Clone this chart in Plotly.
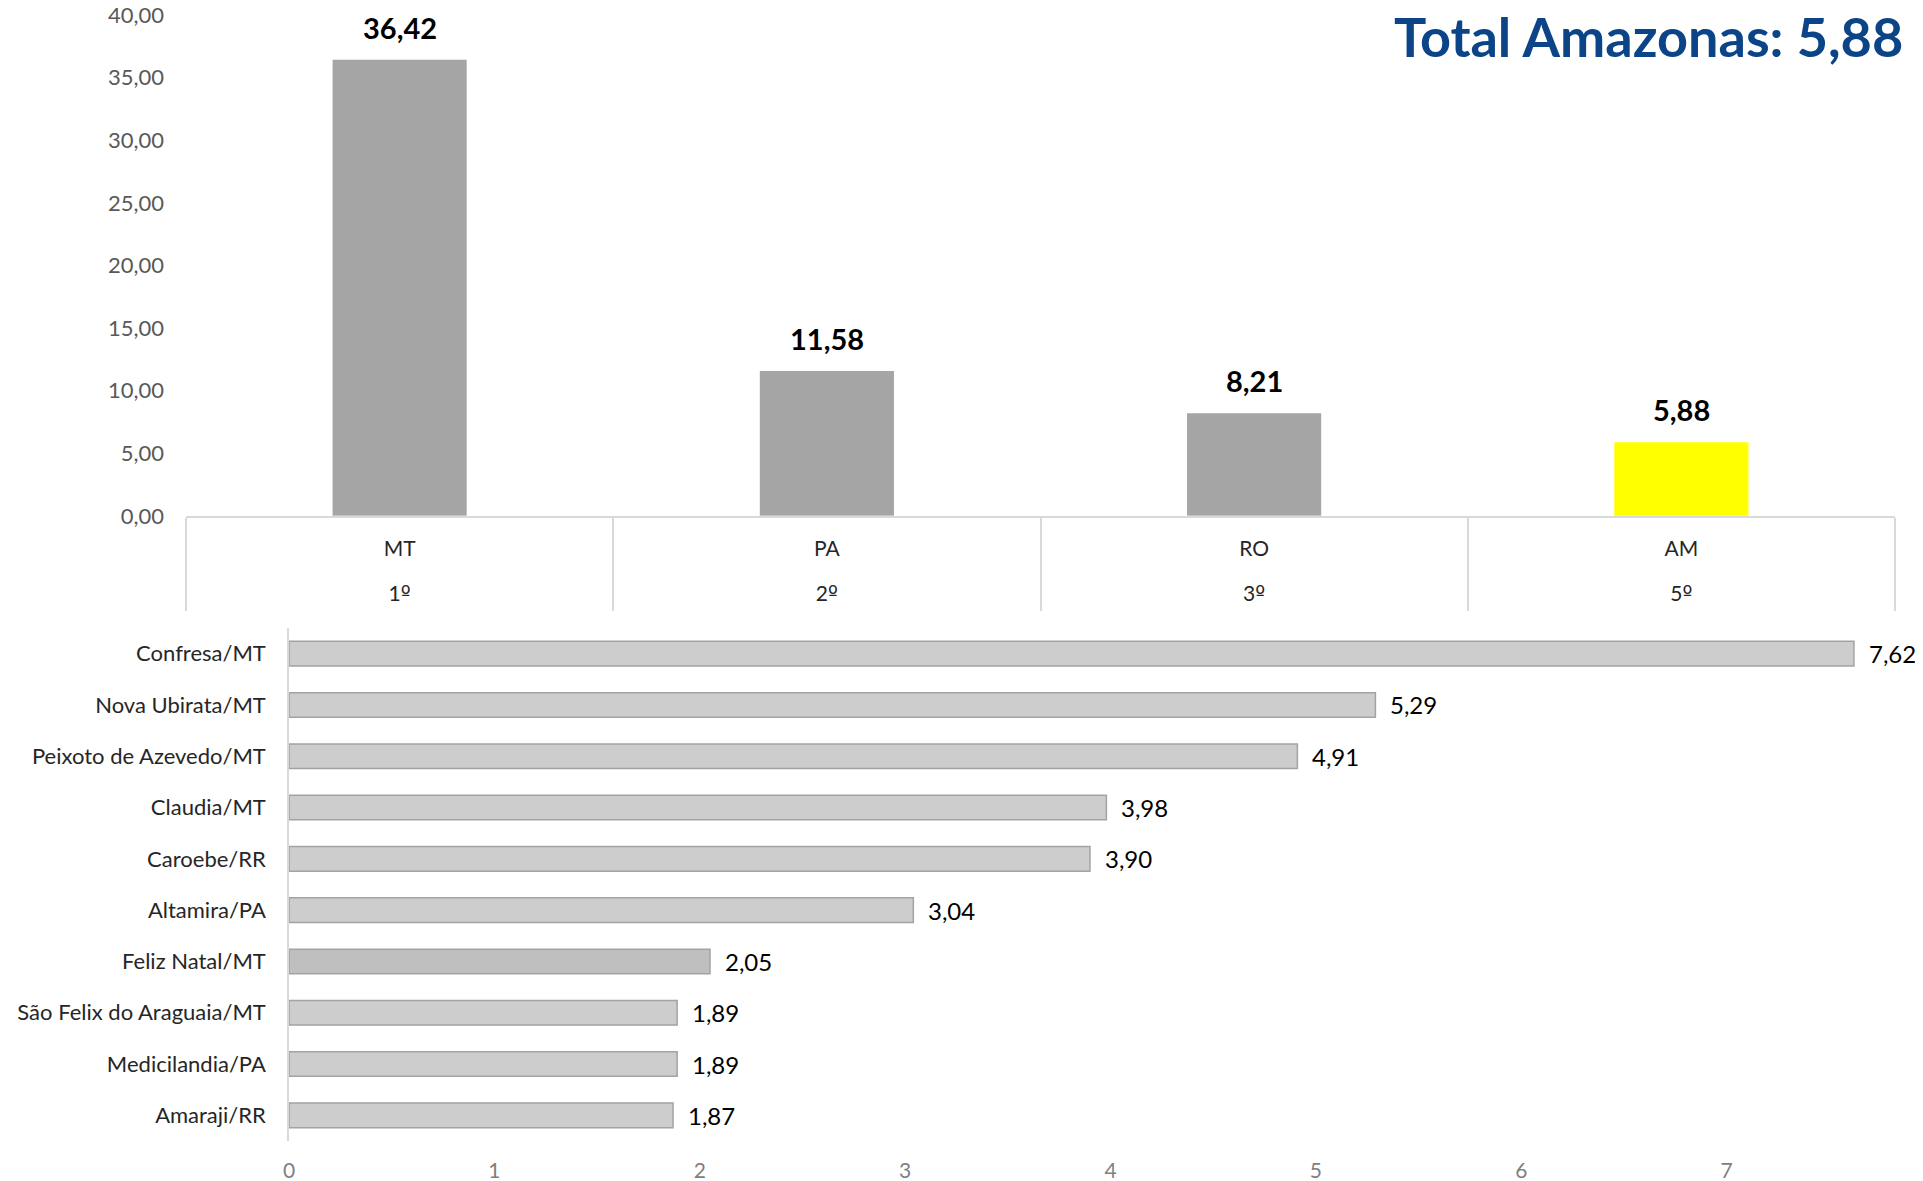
import plotly.graph_objects as go

# ---- data ----
states = ["MT", "PA", "RO", "AM"]
ranks = ["1º", "2º", "3º", "5º"]
state_values = [36.42, 11.58, 8.21, 5.88]
state_colors = ["#a5a5a5", "#a5a5a5", "#a5a5a5", "#ffff00"]

cities = ["Confresa/MT", "Nova Ubirata/MT", "Peixoto de Azevedo/MT", "Claudia/MT",
          "Caroebe/RR", "Altamira/PA", "Feliz Natal/MT", "São Felix do Araguaia/MT",
          "Medicilandia/PA", "Amaraji/RR"]
city_values = [7.62, 5.29, 4.91, 3.98, 3.90, 3.04, 2.05, 1.89, 1.89, 1.87]
city_colors = ["#cdcdcd"] * 6 + ["#bfbfbf"] + ["#cdcdcd"] * 3

y_ticks_top = [0, 5, 10, 15, 20, 25, 30, 35, 40]
x_ticks_bottom = [0, 1, 2, 3, 4, 5, 6, 7]
title_text = "Total Amazonas: 5,88 km²"

W, H = 1923, 1181
OFF = 8  # page body margin offsets the figure
FONT = "Lato"

def fmt(v):
    return f"{v:.2f}".replace(".", ",")

def px_x(x):
    return (x - OFF) / W

def px_y(y):
    return 1 - (y - OFF) / H

pos = list(range(len(states)))
rank_text = [r.replace("º", "<span style='font-family:DejaVu Sans'>º</span>") for r in ranks]

fig = go.Figure()
fig.add_trace(go.Bar(x=pos, y=state_values, marker=dict(color=state_colors, line=dict(width=0)),
                     xaxis="x", yaxis="y", showlegend=False, hoverinfo="skip"))
# invisible helper trace to anchor the rank axis
fig.add_trace(go.Bar(x=pos, y=[0] * len(pos), xaxis="x3", yaxis="y", showlegend=False,
                     hoverinfo="skip", marker=dict(color="rgba(0,0,0,0)")))
fig.add_trace(go.Bar(y=cities, x=city_values, orientation="h", width=0.48,
                     marker=dict(color=city_colors, line=dict(color="#a3a3a3", width=1.5)),
                     xaxis="x2", yaxis="y2", showlegend=False, hoverinfo="skip"))

annotations = []
for p, v in zip(pos, state_values):
    annotations.append(dict(x=p, y=v, xref="x", yref="y", text=f"<b>{fmt(v)}</b>",
                            showarrow=False, yanchor="bottom", yshift=13,
                            font=dict(family=FONT, size=29, color="#000000")))
for c, v in zip(cities, city_values):
    annotations.append(dict(x=v, y=c, xref="x2", yref="y2", text=fmt(v),
                            showarrow=False, xanchor="left", xshift=13,
                            font=dict(family=FONT, size=24, color="#000000")))
annotations.append(dict(x=px_x(1392), y=px_y(36), xref="paper", yref="paper",
                        text=f"<b>{title_text}</b>", showarrow=False, xanchor="left", yanchor="middle",
                        font=dict(family=FONT, size=54, color="#0b4587", weight=900)))

top_x_domain = [px_x(186), px_x(1895)]
bot_x_domain = [px_x(289), px_x(1895)]

fig.update_layout(
    width=W, height=H,
    margin=dict(l=0, r=0, t=0, b=0, autoexpand=False),
    paper_bgcolor="white", plot_bgcolor="white",
    separators=",.",
    bargap=0.686,
    font=dict(family=FONT, size=22, color="#262626"),
    annotations=annotations,
    xaxis=dict(domain=top_x_domain, anchor="y", range=[-0.5, len(states) - 0.5],
               automargin=False, ticklabeloverflow="allow",
               tickmode="array", tickvals=pos, ticktext=states, ticks="",
               showline=True, linecolor="#d9d9d9", linewidth=1.5, showgrid=False,
               zeroline=False, ticklabelstandoff=13,
               tickfont=dict(family=FONT, size=21, color="#262626"),
               minor=dict(tickmode="array", tickvals=[p - 0.5 for p in pos] + [len(pos) - 0.5],
                          ticks="outside", ticklen=93, tickcolor="#d9d9d9", tickwidth=1.5,
                          showgrid=False)),
    xaxis3=dict(overlaying="x", matches="x", anchor="y", side="bottom", automargin=False,
                ticklabeloverflow="allow",
                tickmode="array", tickvals=pos, ticktext=rank_text, ticks="",
                showline=False, showgrid=False, zeroline=False, ticklabelstandoff=63,
                tickfont=dict(family=FONT, size=21, color="#262626")),
    yaxis=dict(domain=[px_y(516), px_y(15)], anchor="x", range=[0, 40],
               automargin=False, ticklabeloverflow="allow",
               tickmode="array", tickvals=y_ticks_top, tickformat=".2f",
               showgrid=False, zeroline=False, showline=False, ticks="",
               ticklabelstandoff=21,
               tickfont=dict(family=FONT, size=22, color="#595959")),
    xaxis2=dict(domain=bot_x_domain, anchor="y2", range=[0, 7.82], automargin=False,
                ticklabeloverflow="allow",
                tickmode="array", tickvals=x_ticks_bottom, showgrid=False,
                zeroline=False, showline=False, ticks="", ticklabelstandoff=15,
                tickfont=dict(family=FONT, size=21, color="#808080")),
    yaxis2=dict(domain=[px_y(1141), px_y(628)], anchor="x2", autorange="reversed",
                automargin=False, ticklabeloverflow="allow",
                showgrid=False, zeroline=False, showline=True, linecolor="#d9d9d9",
                linewidth=1.5, ticks="", ticklabelstandoff=17,
                tickfont=dict(family=FONT, size=22, color="#262626")),
)

fig.write_html("out.html")
